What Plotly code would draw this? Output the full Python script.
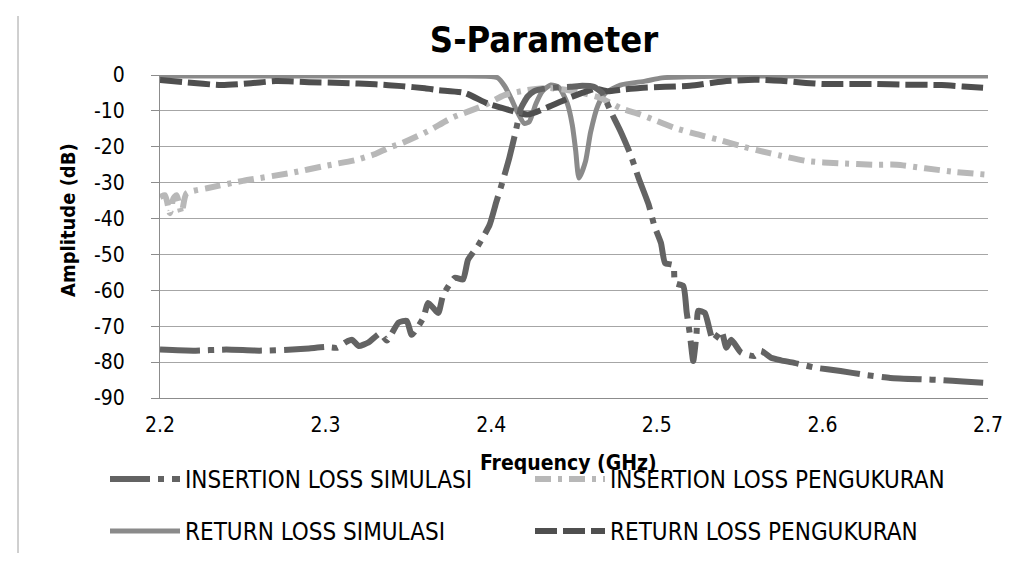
import plotly.graph_objects as go

# ---------------- data ----------------
il_sim_f = [2.200, 2.220, 2.240, 2.260, 2.280, 2.290, 2.300, 2.307, 2.312, 2.316, 2.320, 2.326,
            2.333, 2.337, 2.344, 2.349, 2.352, 2.359, 2.362, 2.368, 2.371, 2.378, 2.383, 2.386,
            2.392, 2.399, 2.403, 2.407, 2.411, 2.415, 2.418, 2.422, 2.426, 2.432, 2.440, 2.448,
            2.455, 2.462, 2.467, 2.472, 2.478, 2.484, 2.489, 2.495, 2.4985, 2.5025, 2.505, 2.510,
            2.511, 2.516, 2.518, 2.520, 2.522, 2.524, 2.525, 2.529, 2.534, 2.539, 2.542, 2.545,
            2.551, 2.559, 2.563, 2.569, 2.575, 2.583, 2.595, 2.611, 2.625, 2.641, 2.660, 2.672,
            2.685, 2.700]
il_sim_db = [-76.5, -76.8, -76.5, -76.8, -76.5, -76.2, -75.8, -76.0, -74.5, -73.8, -75.5, -74.5,
             -72.0, -74.0, -69.0, -68.5, -72.4, -67.7, -63.5, -66.3, -61.3, -56.5, -57.0, -51.5,
             -47.6, -41.8, -35.5, -29.5, -23.0, -15.3, -9.2, -6.0, -4.5, -3.8, -3.5, -3.3,
             -3.0, -3.3, -5.0, -10.0, -15.6, -22.0, -28.7, -36.0, -42.0, -46.8, -52.4, -53.0,
             -58.0, -58.8, -66.0, -72.4, -79.7, -72.0, -65.7, -66.3, -74.0, -71.3, -76.0, -73.8,
             -77.4, -78.3, -76.9, -78.8, -79.5, -80.2, -81.5, -82.5, -83.5, -84.4, -84.8, -85.0,
             -85.4, -85.8]

il_meas_f = [2.200, 2.203, 2.206, 2.208, 2.210, 2.213, 2.216, 2.229, 2.250, 2.279, 2.300, 2.318,
             2.330, 2.338, 2.346, 2.362, 2.376, 2.396, 2.408, 2.422, 2.434, 2.450, 2.466, 2.478,
             2.490, 2.500, 2.511, 2.524, 2.537, 2.550, 2.561, 2.575, 2.591, 2.610, 2.632, 2.645,
             2.662, 2.680, 2.700]
il_meas_db = [-34.0, -33.5, -38.5, -34.5, -33.5, -38.5, -33.0, -31.5, -29.5, -27.3, -25.3, -23.7,
              -22.0, -20.3, -19.0, -15.6, -12.0, -8.4, -5.6, -4.2, -3.6, -4.5, -6.4, -9.2,
              -11.0, -12.8, -14.8, -16.5, -18.0, -19.7, -21.0, -22.5, -24.0, -24.6, -25.0, -25.0,
              -26.0, -27.0, -27.8]

rl_sim_f = [2.200, 2.250, 2.300, 2.350, 2.380, 2.400, 2.404, 2.408, 2.412, 2.416, 2.420, 2.423,
            2.427, 2.431, 2.436, 2.441, 2.446, 2.449, 2.451, 2.453, 2.457, 2.460, 2.4645, 2.469,
            2.478, 2.493, 2.503, 2.520, 2.550, 2.600, 2.650, 2.700]
rl_sim_db = [-0.3, -0.3, -0.3, -0.3, -0.3, -0.4, -0.8, -3.0, -6.5, -10.5, -13.5, -13.0,
             -8.0, -4.5, -2.8, -3.5, -8.0, -14.0, -21.0, -28.7, -24.0, -16.0, -8.4, -5.0,
             -2.8, -1.7, -0.8, -0.5, -0.3, -0.3, -0.3, -0.3]

rl_meas_f = [2.200, 2.215, 2.237, 2.255, 2.270, 2.290, 2.310, 2.330, 2.346, 2.360, 2.368, 2.384,
             2.398, 2.409, 2.422, 2.434, 2.448, 2.458, 2.463, 2.470, 2.480, 2.490, 2.505, 2.520,
             2.540, 2.559, 2.575, 2.590, 2.600, 2.632, 2.650, 2.672, 2.685, 2.700]
rl_meas_db = [-1.4, -2.0, -2.8, -2.3, -1.7, -2.0, -2.2, -2.6, -3.1, -3.7, -4.2, -5.0,
              -8.0, -9.5, -11.0, -9.0, -6.2, -4.5, -3.8, -4.5, -4.0, -3.6, -3.3, -3.0,
              -1.8, -1.3, -1.6, -2.2, -2.5, -2.5, -2.7, -2.8, -3.2, -3.6]

names = ["INSERTION LOSS SIMULASI", "INSERTION LOSS PENGUKURAN",
         "RETURN LOSS SIMULASI", "RETURN LOSS PENGUKURAN"]
x_ticks = [2.2, 2.3, 2.4, 2.5, 2.6, 2.7]
y_ticks = [0, -10, -20, -30, -40, -50, -60, -70, -80, -90]

FONT = "DejaVu Sans Condensed"

# plot area in pixels
L, R, T, B = 152, 980, 67, 390
W, H = R - L, B - T


def px(x):
    return (x - L) / W


def py(y):
    return (B - y) / H


fig = go.Figure()
fig.add_trace(go.Scatter(x=rl_sim_f, y=rl_sim_db, name=names[2], mode="lines",
                         line=dict(color="#8a8a8a", width=5, shape="spline", smoothing=0.6),
                         legend="legend3"))
fig.add_trace(go.Scatter(x=il_meas_f, y=il_meas_db, name=names[1], mode="lines",
                         line=dict(color="#b8b8b8", width=6, dash="16px,7px,4px,7px",
                                   shape="spline", smoothing=0.6),
                         legend="legend2"))
fig.add_trace(go.Scatter(x=rl_meas_f, y=rl_meas_db, name=names[3], mode="lines",
                         line=dict(color="#4f4f4f", width=6, dash="22px,6px",
                                   shape="spline", smoothing=0.6),
                         legend="legend4"))
fig.add_trace(go.Scatter(x=il_sim_f, y=il_sim_db, name=names[0], mode="lines",
                         line=dict(color="#636363", width=6, dash="40px,8px,6px,8px",
                                   shape="spline", smoothing=0.5),
                         legend="legend"))


def leg(xp, yp):
    return dict(orientation="h", xanchor="left", yanchor="top", x=px(xp), y=py(yp),
                font=dict(family=FONT, size=24, color="#000000"),
                bgcolor="rgba(0,0,0,0)", borderwidth=0, itemwidth=70)


ROW1, ROW2 = 478 - 29, 530 - 29
fig.update_layout(
    width=1018, height=570,
    margin=dict(l=L, r=1018 - R, t=T, b=570 - B, autoexpand=False),
    paper_bgcolor="white", plot_bgcolor="white",
    title=dict(text="<b>S-Parameter</b>", x=536 / 1018, xanchor="center",
               y=1 - 31 / 570, yanchor="middle",
               font=dict(family=FONT, size=36, color="#000000")),
    xaxis=dict(range=[2.2, 2.7], tickvals=x_ticks, ticktext=[str(v) for v in x_ticks],
               showgrid=False, zeroline=False, showline=True, linecolor="#8c8c8c",
               linewidth=1, ticks="", ticklabelstandoff=8,
               tickfont=dict(family=FONT, size=21, color="#000000")),
    yaxis=dict(range=[-90, 0], tickvals=y_ticks, ticktext=[str(v) for v in y_ticks],
               showgrid=True, gridcolor="#a6a6a6", gridwidth=1, zeroline=False,
               showline=True, linecolor="#8c8c8c", linewidth=1,
               ticks="outside", ticklen=8, tickcolor="#8c8c8c", ticklabelstandoff=22,
               tickfont=dict(family=FONT, size=21, color="#000000")),
    legend=leg(97, ROW1),
    legend2=leg(522, ROW1),
    legend3=leg(97, ROW2),
    legend4=leg(522, ROW2),
    showlegend=True,
    annotations=[
        dict(text="<b>Frequency (GHz)</b>", xref="paper", yref="paper",
             x=px(560), y=py(455), xanchor="center", yanchor="middle",
             showarrow=False, font=dict(family=FONT, size=21, color="#000000")),
        dict(text="<b>Amplitude (dB)</b>", xref="paper", yref="paper", textangle=-90,
             x=px(60), y=py(212), xanchor="center", yanchor="middle",
             showarrow=False, font=dict(family=FONT, size=20, color="#000000")),
    ],
    shapes=[dict(type="line", xref="paper", yref="paper",
                 x0=px(10), x1=px(10), y0=py(8), y1=py(545),
                 line=dict(color="#a0a0a0", width=1))],
)

fig.write_html("out.html")
